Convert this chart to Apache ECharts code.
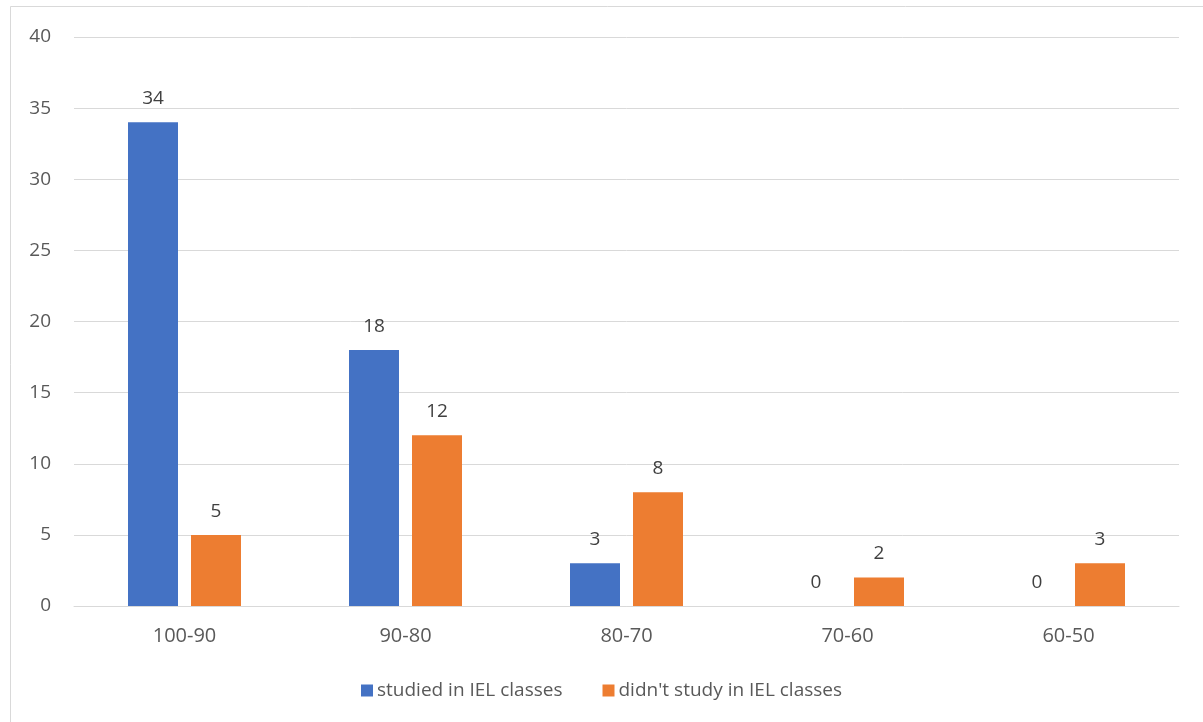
<!DOCTYPE html>
<html>
<head>
<meta charset="utf-8">
<script src="https://cdn.jsdelivr.net/npm/echarts@6/dist/echarts.min.js"></script>
<style>
  html, body { margin: 0; padding: 0; background: #fff; }
  #chart { width: 1203px; height: 722px; }
</style>
</head>
<body>
<div id="chart"></div>
<script>
// Score bands and number of students in each band
const categories = ['100-90', '90-80', '80-70', '70-60', '60-50'];
const studied = [34, 18, 3, 0, 0];
const didntStudy = [5, 12, 8, 2, 3];
const seriesNames = ['studied in IEL classes', "didn't study in IEL classes"];

const FONT = '"Open Sans", "Noto Sans", sans-serif';
const FS = 19;
const chart = echarts.init(document.getElementById('chart'), null, { renderer: 'canvas' });

const labelStyle = {
  show: true,
  position: 'top',
  distance: 14,
  color: '#404040',
  fontSize: FS,
  fontFamily: FONT
};

chart.setOption({
  animation: false,
  backgroundColor: '#fff',
  graphic: [{
    type: 'rect',
    shape: { x: 10.5, y: 6.5, width: 1220, height: 730 },
    style: { fill: 'none', stroke: '#d9d9d9', lineWidth: 1 },
    silent: true
  }],
  grid: { left: 74, right: 24, top: 37, bottom: 116, containLabel: false },
  legend: {
    bottom: 17,
    left: 'center',
    itemWidth: 12,
    itemHeight: 12,
    itemGap: 40,
    icon: 'rect',
    textStyle: { color: '#595959', fontSize: FS, fontFamily: FONT, padding: [0, 0, 0, -1] },
    data: seriesNames
  },
  xAxis: {
    type: 'category',
    data: categories,
    axisLine: { lineStyle: { color: '#d9d9d9', width: 1 } },
    axisTick: { show: false },
    axisLabel: { color: '#595959', fontSize: 20, fontFamily: FONT, margin: 20 }
  },
  yAxis: {
    type: 'value',
    min: 0,
    max: 40,
    interval: 5,
    axisLine: { show: false },
    axisTick: { show: false },
    splitLine: { lineStyle: { color: '#d9d9d9', width: 1 } },
    axisLabel: { color: '#595959', fontSize: FS, fontFamily: FONT, margin: 23, align: 'right' }
  },
  series: [
    {
      name: seriesNames[0],
      type: 'bar',
      data: studied,
      itemStyle: { color: '#4472c4' },
      barWidth: 50,
      barGap: '26%',
      label: labelStyle
    },
    {
      name: seriesNames[1],
      type: 'bar',
      data: didntStudy,
      itemStyle: { color: '#ed7d31' },
      barWidth: 50,
      label: labelStyle
    }
  ]
});
</script>
</body>
</html>
